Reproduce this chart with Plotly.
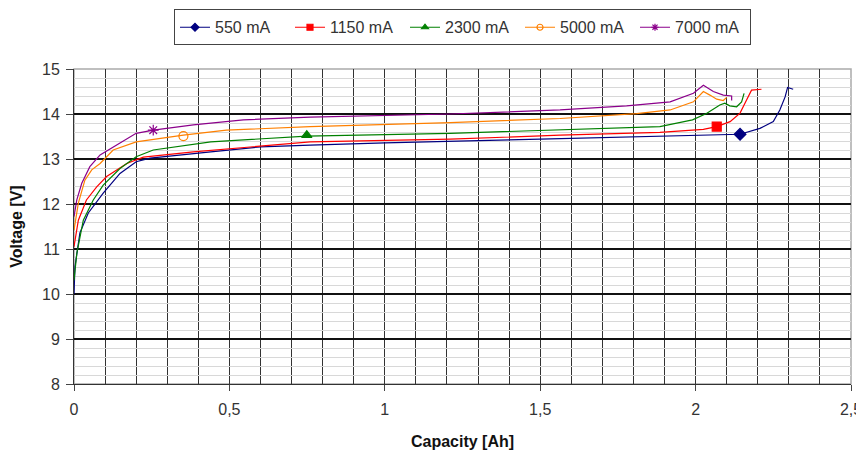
import plotly.graph_objects as go

series_names = ["550 mA", "1150 mA", "2300 mA", "5000 mA", "7000 mA"]
colors = ["#000080", "#FF0000", "#008000", "#FF8000", "#8B008B"]
symbols = ["diamond", "square", "triangle-up", "circle-open", "asterisk-open"]

cap_550 = [0.0, 0.003, 0.019, 0.046, 0.094, 0.148, 0.2, 0.245, 0.44, 0.6, 0.76, 1.0, 1.5, 2.0, 2.143, 2.207, 2.25, 2.271, 2.288, 2.296, 2.314]
volt_550 = [10.0, 10.6, 11.36, 11.8, 12.24, 12.68, 12.94, 13.02, 13.16, 13.27, 13.31, 13.36, 13.44, 13.53, 13.55, 13.68, 13.83, 14.09, 14.38, 14.59, 14.55]

cap_1150 = [0.0, 0.014, 0.04, 0.073, 0.105, 0.17, 0.223, 0.384, 0.76, 1.21, 1.564, 1.885, 2.025, 2.068, 2.111, 2.143, 2.164, 2.18, 2.212]
volt_1150 = [11.05, 11.64, 12.09, 12.38, 12.61, 12.9, 13.04, 13.16, 13.38, 13.44, 13.53, 13.59, 13.66, 13.72, 13.83, 14.02, 14.31, 14.53, 14.55]

cap_2300 = [0.0, 0.009, 0.03, 0.062, 0.094, 0.148, 0.2, 0.255, 0.44, 0.749, 1.21, 1.564, 1.885, 1.99, 2.035, 2.078, 2.094, 2.11, 2.132, 2.148, 2.156]
volt_2300 = [10.3, 10.9, 11.64, 12.09, 12.42, 12.79, 13.05, 13.2, 13.38, 13.51, 13.57, 13.64, 13.72, 13.87, 14.01, 14.2, 14.24, 14.18, 14.16, 14.27, 14.46]

cap_5000 = [0.0, 0.014, 0.035, 0.057, 0.084, 0.126, 0.2, 0.277, 0.352, 0.49, 0.76, 1.21, 1.564, 1.81, 1.918, 1.993, 2.025, 2.046, 2.068, 2.089, 2.1]
volt_5000 = [11.42, 12.02, 12.53, 12.76, 12.9, 13.2, 13.38, 13.46, 13.53, 13.64, 13.72, 13.81, 13.9, 14.01, 14.09, 14.27, 14.5, 14.42, 14.33, 14.3, 14.37]

cap_7000 = [0.0, 0.009, 0.025, 0.051, 0.084, 0.148, 0.2, 0.255, 0.384, 0.545, 0.76, 1.21, 1.564, 1.778, 1.918, 1.993, 2.025, 2.057, 2.089, 2.116, 2.116]
volt_7000 = [11.72, 12.09, 12.46, 12.83, 13.09, 13.35, 13.57, 13.64, 13.76, 13.87, 13.93, 14.0, 14.09, 14.18, 14.27, 14.46, 14.64, 14.5, 14.42, 14.4, 14.3]

marker_cap = [2.143, 2.068, 0.749, 0.352, 0.255]
marker_volt = [13.55, 13.72, 13.53, 13.51, 13.64]

x_ticks = [0, 0.5, 1, 1.5, 2, 2.5]
y_ticks = [8, 9, 10, 11, 12, 13, 14, 15]

caps = [cap_550, cap_1150, cap_2300, cap_5000, cap_7000]
volts = [volt_550, volt_1150, volt_2300, volt_5000, volt_7000]

fig = go.Figure()
for i in range(5):
    fig.add_trace(go.Scatter(x=caps[i], y=volts[i], mode="lines",
                             line=dict(color=colors[i], width=1.2),
                             showlegend=False, hoverinfo="skip"))
for i in range(5):
    fig.add_trace(go.Scatter(x=[marker_cap[i]], y=[marker_volt[i]], mode="markers",
                             marker=dict(symbol=symbols[i], color=colors[i], size=9,
                                         line=dict(color=colors[i], width=1.2)),
                             showlegend=False))
for i in range(5):
    fig.add_trace(go.Scatter(x=[None], y=[None], mode="lines+markers", name=series_names[i],
                             line=dict(color=colors[i], width=1.2),
                             marker=dict(symbol=symbols[i], color=colors[i], size=6,
                                         line=dict(color=colors[i], width=1.2))))

fig.update_layout(
    width=856, height=445,
    margin=dict(l=66, r=13, t=61, b=69, autoexpand=False),
    paper_bgcolor="white", plot_bgcolor="white",
    separators=", ",
    font=dict(family="Liberation Sans, Arial, sans-serif", size=16, color="#333333"),
    legend=dict(orientation="h", x=0.5, xanchor="center", y=0.997, yanchor="top",
                yref="container", xref="paper",
                bordercolor="#444444", borderwidth=1, bgcolor="white",
                font=dict(size=16), entrywidth=70, entrywidthmode="pixels",
                itemwidth=30, tracegroupgap=0),
    xaxis=dict(range=[0, 2.5], tickvals=x_ticks, ticks="outside", ticklen=6,
               tickcolor="#444444", showline=True, linecolor="#333333", mirror=False,
               showgrid=False, zeroline=False, automargin=False, ticklabelstandoff=5,
               minor=dict(dtick=0.1, tick0=0, showgrid=True, gridcolor="#333333", gridwidth=1.3),
               title=dict(text="<b>Capacity [Ah]</b>", font=dict(size=16, color="#111111"), standoff=18)),
    yaxis=dict(range=[8, 15], tickvals=y_ticks, ticks="outside", ticklen=7,
               tickcolor="#444444", showline=True, linecolor="#333333",
               showgrid=True, gridcolor="#111111", gridwidth=1.5, zeroline=False, automargin=False,
               ticklabelstandoff=3,
               minor=dict(dtick=0.2, tick0=8, showgrid=True, gridcolor="#d8d8d8", gridwidth=1),
               title=dict(text="<b>Voltage [V]</b>", font=dict(size=16, color="#111111"), standoff=16)),
)

# light frame on top and right
fig.add_shape(type="rect", xref="paper", yref="paper", x0=0, y0=0, x1=1, y1=1,
              line=dict(color="#aaaaaa", width=1.5), layer="below")

fig.write_html("out.html")
